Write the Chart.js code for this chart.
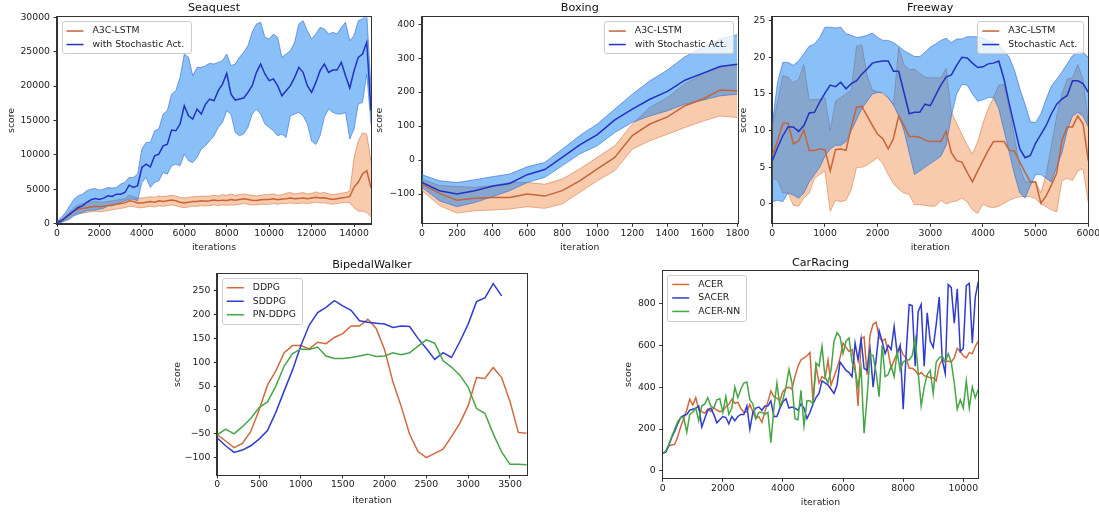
<!DOCTYPE html>
<html lang="en">
<head>
<meta charset="UTF-8">
<title>Stochastic action learning curves</title>
<script src="https://cdn.jsdelivr.net/npm/chart.js@4"></script>
<style>
  body { margin: 0; background: #fff; width: 1099px; height: 512px; position: relative; overflow: hidden; }
</style>
</head>
<body>
<script>
// ---------- Seaquest ----------
const seaquestIters = [0,200,400,600,800,1000,1200,1400,1600,1800,2000,2200,2400,2600,2800,3000,3200,3400,3600,3800,
  4000,4200,4400,4600,4800,5000,5200,5400,5600,5800,6000,6200,6400,6600,6800,7000,7200,7400,7600,7800,
  8000,8200,8400,8600,8800,9000,9200,9400,9600,9800,10000,10200,10400,10600,10800,11000,11200,11400,11600,11800,
  12000,12200,12400,12600,12800,13000,13200,13400,13600,13800,14000,14200,14400,14600,14800];
const seaquestA3C = [200,350,800,1300,1800,2100,2200,2300,2400,2500, 2450,2500,2600,2700,2800,2900,3000,3300,3200,3000,
  3000,3100,3200,3100,3300,3200,3300,3400,3300,3100, 3000,3100,3200,3200,3300,3250,3300,3400,3300,3400,
  3350,3500,3400,3500,3600,3500,3400,3350,3450,3500, 3500,3600,3450,3550,3600,3700,3600,3650,3700,3600,
  3700,3800,3700,3750,3600,3500,3600,3700,3800,3900, 5300,6000,7200,7700,5200];
const seaquestA3CHigh = [300,600,1100,1700,2300,2700,2900,3000,3100,3200, 3100,3100,3200,3300,3400,3500,3600,4100,3900,3700,
  3700,3800,3900,3800,4000,3900,4000,4100,4000,3800, 3700,3800,3900,3900,4000,3950,4000,4100,4000,4200,
  4100,4300,4100,4200,4300,4200,4100,4000,4100,4200, 4200,4300,4100,4200,4400,4500,4300,4400,4500,4300,
  4400,4600,4400,4500,4300,4200,4300,4400,4500,4700, 9500,12000,13200,13000,9000];
const seaquestA3CLow = [100,200,500,900,1300,1500,1500,1600,1700,1800, 1700,1800,1900,2000,2100,2200,2300,2500,2500,2300,
  2300,2400,2500,2400,2600,2500,2600,2700,2600,2400, 2300,2400,2500,2500,2600,2550,2600,2700,2600,2700,
  2650,2700,2700,2800,2900,2800,2700,2700,2800,2800, 2800,2900,2800,2900,2900,3000,2900,2900,3000,2900,
  3000,3100,3000,3000,2900,2800,2900,3000,3100,3000, 2300,1800,1800,1600,1000];
const seaquestStoch = [150,400,870,1360,1840,2330,2570,3060,3450,3640, 3500,3690,4030,3930,4270,4270,4510,5580,5240,5490,
  8150,8640,8250,9850,10100,11300,11550,13590,13490,14470, 17130,15680,15190,16650,15920,17380,18100,17860,19320,20290,
  21840,18830,17960,18100,18250,19080,20050,21990,23200,21750, 20780,21020,20050,18590,19320,20050,21260,22720,21990,20050,
  19080,20530,22230,23200,21990,22330,22330,23440,21500,19710, 22230,24170,24660,26360,16400];
const seaquestStochHigh = [290,870,1600,2570,3540,4030,4270,4760,5000,5100, 4850,5000,5240,5150,5240,5730,5970,6700,6700,7180,
  10820,11800,11800,13490,13740,15920,16410,18830,19320,21260, 24660,24170,21500,22720,22720,22960,23300,23200,23440,23690,
  24660,22960,23200,24170,24900,25870,27810,29030,29270,27090, 26840,27570,27090,24170,24660,25140,26360,29030,29510,28060,
  26840,27570,28540,28300,27570,27810,27570,28540,29270,26600, 27330,29510,29760,30500,19800];
const seaquestStochLow = [0,150,390,630,1120,1360,1600,1840,1940,1940, 2090,2230,2570,2570,2820,3060,3300,3540,3540,3300,
  5970,6700,5240,5970,6210,7430,7180,8400,8640,8400, 10100,9130,8880,9610,10820,11310,12040,12770,13980,14710,
  16410,15920,13250,12770,13010,13980,15920,16650,15920,14470, 13980,13490,12770,13010,12520,15680,15920,16160,15680,14470,
  12000,11500,12770,15430,16650,16160,15920,15920,16160,12280, 13740,17380,17620,21750,14470];
const seaquestXTicks = [0,2000,4000,6000,8000,10000,12000,14000];
const seaquestYTicks = [0,5000,10000,15000,20000,25000,30000];

// ---------- Boxing ----------
const boxingIters = [0,100,200,300,400,500,600,700,800,900,1000,1100,1200,1300,1400,1500,1600,1700,1800];
const boxingA3C = [-71,-98,-118,-112,-110,-110,-100,-106,-90,-61,-26,8,72,106,127,160,179,206,204];
const boxingA3CHigh = [-56,-75,-78,-80,-75,-66,-66,-71,-56,-26,8,42,106,155,184,224,253,273,282];
const boxingA3CLow = [-90,-134,-156,-149,-147,-144,-137,-142,-129,-95,-61,-31,32,57,76,96,114,130,125];
const boxingStoch = [-66,-90,-100,-90,-77,-69,-43,-28,8,45,75,118,150,179,202,235,255,275,282];
const boxingStochHigh = [-43,-61,-66,-58,-49,-41,-20,-7,32,72,106,150,194,233,265,304,331,356,369];
const boxingStochLow = [-80,-120,-137,-125,-108,-90,-66,-51,-17,18,42,81,111,130,145,165,176,189,194];
const boxingXTicks = [0,200,400,600,800,1000,1200,1400,1600,1800];
const boxingYTicks = [-100,0,100,200,300,400];

// ---------- Freeway ----------
const freewayIters = [0,100,200,300,400,500,600,700,800,900,1000,1100,1200,1300,1400,1500,1600,1700,1800,1900,
  2000,2100,2200,2300,2400,2500,2600,2700,2800,2900,3000,3100,3200,3300,3400,3500,3600,3700,3800,3900,
  4000,4100,4200,4300,4400,4500,4600,4700,4800,4900,5000,5100,5200,5300,5400,5500,5600,5700,5800,5900,6000];
const freewayA3C = [6.6,8.6,11.0,11.0,8.2,8.6,10.1,7.3,7.3,7.5, 7.4,4.5,7.4,7.5,7.3,10.5,13.2,13.3,12.0,10.7,
  9.5,8.9,7.5,8.9,12.0,10.7,9.2,9.2,9.1,8.7, 8.5,8.5,8.5,9.9,7.0,5.9,5.7,4.3,3.0,4.5,
  5.9,7.3,8.5,8.5,8.5,7.3,7.2,5.7,4.3,3.0, 3.0,0.1,1.1,2.6,4.2,8.7,10.5,10.5,12.0,10.9, 5.9];
const freewayA3CHigh = [10.5,14,17.5,17.3,16.5,17,19,14.2,14.2,14.3, 14.5,10,14,14.5,15,15.5,21.5,21.7,17.5,15.5,
  15.3,15,14.5,13.5,21.3,19,18.3,18.4,17.8,17.3, 17.2,17.2,17.2,18.5,12.5,11,9.5,8,6.8,8.5,
  11,13,14.5,16.2,16.3,13,9,5,3,3, 3,1.5,4,8,12,15,17,17.2,19,17, 11];
const freewayA3CLow = [3.5,3.3,1.5,1.5,-0.2,-0.3,0.8,1.5,3.5,4, 4.5,-1,0.5,0.3,0.5,2,5,5,5.3,5.8,
  6.3,5.5,4,2.8,2,1.5,1.3,-0.1,-0.1,-0.2, -0.3,-0.3,0.5,0,0.3,0.4,0.8,0.3,-0.8,-1.3,
  0,-0.4,-0.5,-0.3,0.1,0.5,0.8,1,1,1, 0.7,0,-0.4,-0.8,-1.1,3.2,3.5,3.2,4.5,4.8, 0.2];
const freewayStoch = [5.9,7.7,9.3,10.5,10.5,9.9,10.7,12.4,12.5,13.9, 15.1,16.2,16.0,16.6,15.7,16.4,16.8,17.7,18.4,19.2,
  19.4,19.5,19.5,18.1,18.1,15.2,12.3,12.5,12.5,13.6, 13.4,14.8,16.2,17.3,17.6,18.9,20.0,19.9,19.2,18.6,
  18.7,19.1,19.2,19.5,17.0,13.6,10.5,7.5,6.3,6.6, 8.3,9.5,10.7,12.3,13.6,14.3,14.8,16.8,16.8,16.4, 15.2];
const freewayStochHigh = [10.9,16.6,19.3,19.3,18.9,19.5,20.5,21.5,21.8,22.7, 24.1,24.1,24.0,24.1,23.2,23.0,22.7,22.8,23.0,23.3,
  22.7,22.3,22.3,22.0,21.5,20.9,20.5,20.1,20.1,20.7, 21.4,21.8,22.3,22.6,22.0,22.5,22.5,22.8,22.8,22.8,
  22.6,22.3,22.0,21.6,20.9,20.0,18.2,15.7,13.6,11.2, 11.1,12.3,14.3,16.1,17.0,18.0,19.1,20.2,20.7,20.7, 20.0];
const freewayStochLow = [0.3,0.5,0.3,1.5,1.2,0.8,1.5,3,4,5, 6.5,7.5,8,8,8.5,10,11.5,13,14,15,
  15.2,15.2,14.5,13.5,12,10,7,4,4.5,5, 5.5,6,6.5,8,12,15,16.3,16.2,15,14,
  14.2,14.5,14.5,13,10,7,4,1.5,0.8,2.5, 4,4,3.5,3,5,7,10,12,12.5,12, 10.5];
const freewayXTicks = [0,1000,2000,3000,4000,5000,6000];
const freewayYTicks = [0,5,10,15,20,25];

// ---------- BipedalWalker ----------
const bipedalIters = [0,100,200,300,400,500,600,700,800,900,1000,1100,1200,1300,1400,1500,1600,1700,1800,1900,
  2000,2100,2200,2300,2400,2500,2600,2700,2800,2900,3000,3100,3200,3300,3400,3500,3600,3700];
const bipedalDDPG = [-52,-65,-79,-70,-45,0,52,82,120,135, 135,128,142,139,152,160,176,176,190,171,
  127,59,7,-51,-87,-100,-91,-82,-56,-28, 9,68,66,89,68,18,-47,-49];
const bipedalSDDPG = [-59,-75,-89,-84,-75,-61,-43,-5,40,84, 135,178,204,215,229,218,209,187,184,182,
  180,173,176,175,150,129,106,120,110,143, 180,227,235,265,239];
const bipedalPNDDPG = [-52,-40,-50,-35,-18,5,17,50,92,118, 128,127,132,113,108,108,110,113,117,112,
  113,120,116,120,134,147,140,103,90,73, 48,3,-7,-50,-88,-114,-114,-115];
const bipedalXTicks = [0,500,1000,1500,2000,2500,3000,3500];
const bipedalYTicks = [-100,-50,0,50,100,150,200,250];

// ---------- CarRacing ----------
const carIters = [0,100,200,300,400,500,600,700,800,900,1000,1100,1200,1300,1400,1500,1600,1700,1800,1900,
  2000,2100,2200,2300,2400,2500,2600,2700,2800,2900,3000,3100,3200,3300,3400,3500,3600,3700,3800,3900,
  4000,4100,4200,4300,4400,4500,4600,4700,4800,4900,5000,5100,5200,5300,5400,5500,5600,5700,5800,5900,
  6000,6100,6200,6300,6400,6500,6600,6700,6800,6900,7000,7100,7200,7300,7400,7500,7600,7700,7800,7900,
  8000,8100,8200,8300,8400,8500,8600,8700,8800,8900,9000,9100,9200,9300,9400,9500,9600,9700,9800,9900,
  10000,10100,10200,10300,10400,10500];
const carACER = [84,92,120,124,127,164,211,251,291,343, 315,350,291,283,275,296,283,302,291,283,
  286,307,318,343,323,328,299,280,283,318, 283,251,259,232,283,331,382,355,347,335,
  380,395,400,390,450,500,530,540,550,565, 330,500,420,450,440,530,410,450,490,540,
  610,590,570,580,500,310,630,640,460,650, 700,710,640,620,630,570,490,530,560,590,
  555,540,490,490,480,460,470,455,450,445, 445,430,505,530,520,525,520,540,585,570,
  550,540,565,560,595,620];
const carSACER = [84,90,120,160,190,225,255,265,270,290, 295,300,310,210,250,290,300,270,230,245,
  260,255,225,260,240,260,270,270,310,200, 280,300,305,290,310,310,335,260,260,300,
  330,345,300,305,300,290,320,300,250,280, 320,350,370,430,420,410,390,370,410,520,
  500,480,470,450,610,530,630,490,480,580, 400,530,670,620,560,600,580,690,560,600,
  295,560,795,790,500,760,795,500,755,620, 590,700,830,530,465,890,875,705,870,570,
  585,885,895,610,830,905];
const carACERNN = [84,95,125,165,200,235,255,255,185,270, 280,300,240,310,320,350,310,300,340,345,
  280,355,270,300,400,350,390,420,425,340, 320,250,280,280,270,280,135,300,420,310,
  340,400,485,420,250,245,385,215,335,335, 320,515,500,595,450,420,480,620,660,640,
  560,620,635,520,480,400,490,180,350,560, 550,470,355,600,450,460,500,450,570,480,
  520,530,530,550,630,470,310,400,460,480, 370,520,540,550,520,560,520,420,295,340,
  300,430,300,400,350,390];
const carXTicks = [0,2000,4000,6000,8000,10000];
const carYTicks = [0,200,400,600,800];

// ---------- drawing ----------
Chart.defaults.font.family = '"DejaVu Sans", sans-serif';
Chart.defaults.color = '#222';

const TICK = 9.3, HEAD = 11.2;
const orangeLine = 'rgb(196,100,60)', blueLine = 'rgb(35,50,195)';
const orangeFill = 'rgba(240,140,70,0.45)', orangeEdge = 'rgba(205,110,60,0.55)';
const blueFill = 'rgba(20,130,240,0.5)', blueEdge = 'rgba(40,90,210,0.55)';
const c2Orange = 'rgb(208,105,62)', c2Blue = 'rgb(48,60,205)', c2Green = 'rgb(70,165,70)';

const pts = (xs, ys) => ys.map((y, i) => ({x: xs[i], y: y}));

// spines on all four sides
const frame = {
  id: 'frame',
  afterDraw(chart) {
    const a = chart.chartArea, ctx = chart.ctx;
    ctx.save();
    ctx.strokeStyle = '#333';
    ctx.lineWidth = 1;
    ctx.strokeRect(Math.round(a.left) - 0.5, Math.round(a.top) - 0.5,
      Math.round(a.right) - Math.round(a.left) + 1, Math.round(a.bottom) - Math.round(a.top) + 1);
    ctx.restore();
  }
};

// matplotlib-style legend inside the axes
const boxLegend = {
  id: 'boxLegend',
  afterDraw(chart, args, opts) {
    const items = chart.data.datasets.filter(d => d.label);
    const ctx = chart.ctx, a = chart.chartArea;
    ctx.save();
    ctx.font = TICK + 'px "DejaVu Sans"';
    const textW = Math.max(...items.map(d => ctx.measureText(d.label).width));
    const w = 31 + textW + 6, h = items.length * 13.5 + 5;
    const x = opts.side === 'right' ? a.right - 5 - w : a.left + 4.5;
    const y = a.top + 4;
    ctx.fillStyle = 'rgba(255,255,255,0.8)';
    ctx.strokeStyle = '#cccccc';
    ctx.lineWidth = 1;
    ctx.beginPath();
    ctx.roundRect(Math.round(x) + 0.5, Math.round(y) + 0.5, Math.round(w), Math.round(h), 2.5);
    ctx.fill();
    ctx.stroke();
    items.forEach((d, i) => {
      const cy = y + 9.75 + i * 13.5;
      ctx.strokeStyle = d.borderColor;
      ctx.lineWidth = 1.5;
      ctx.beginPath();
      ctx.moveTo(x + 5, cy);
      ctx.lineTo(x + 22, cy);
      ctx.stroke();
      ctx.fillStyle = '#222';
      ctx.textBaseline = 'middle';
      ctx.fillText(d.label, x + 31, cy);
    });
    ctx.restore();
  }
};

function meanLine(label, xs, ys, color, order) {
  return {label: label, data: pts(xs, ys), borderColor: color, backgroundColor: color,
    borderWidth: 1.5, pointRadius: 0, fill: false, order: order};
}
function band(xs, hi, lo, fillColor, edge, order) {
  return [
    {data: pts(xs, hi), borderColor: edge, backgroundColor: fillColor, borderWidth: 1, pointRadius: 0, fill: '+1', order: order},
    {data: pts(xs, lo), borderColor: edge, backgroundColor: fillColor, borderWidth: 1, pointRadius: 0, fill: false, order: order}
  ];
}

const fmt = v => (v < 0 ? '\u2212' + Math.abs(v) : String(v));

// box: L,T canvas origin; PL,PR,PT,PB plot area; ytx y-title centre x; xty x-title centre y; tty title centre y
function makeChart(box, title, xTitle, x, y, datasets, legendSide) {
  const W = Math.ceil(box.PR - box.L + 16), H = Math.ceil(box.xty + 7 - box.T);
  const canvas = document.createElement('canvas');
  canvas.width = W; canvas.height = H;
  canvas.style.cssText = 'position:absolute;left:' + box.L + 'px;top:' + box.T + 'px;width:' + W + 'px;height:' + H + 'px';
  document.body.appendChild(canvas);
  const lh = TICK * 1.2, tlh = HEAD * 1.2;
  const yw = box.PL - box.L, xh = H - (box.PB - box.T);
  const tTop = box.tty - box.T - tlh / 2;
  const tBottom = box.PT - box.T - tTop - tlh;
  new Chart(canvas, {
    type: 'line',
    data: {datasets: datasets},
    options: {
      responsive: false, animation: false, devicePixelRatio: 1,
      layout: {padding: {left: 0, top: 0, bottom: 0, right: W - (box.PR - box.L)}},
      plugins: {
        legend: {display: false}, tooltip: {enabled: false},
        title: {display: true, text: title, fullSize: false, color: '#111',
          font: {size: HEAD, weight: 'normal'}, padding: {top: tTop, bottom: tBottom}},
        boxLegend: {side: legendSide}
      },
      scales: {
        x: {
          type: 'linear', min: x.min, max: x.max,
          grid: {drawOnChartArea: false, drawTicks: true, tickLength: 3.5, color: '#333'},
          border: {display: true, color: '#333', width: 1},
          ticks: {autoSkip: false, maxRotation: 0, padding: 1, font: {size: TICK}, callback: fmt},
          afterBuildTicks: s => { s.ticks = x.ticks.map(v => ({value: v})); },
          title: {display: true, text: xTitle, font: {size: TICK},
            padding: {top: 0, bottom: H - (box.xty - box.T) - lh / 2}},
          afterFit: s => { s.height = xh; }
        },
        y: {
          type: 'linear', min: y.min, max: y.max,
          grid: {drawOnChartArea: false, drawTicks: true, tickLength: 3.5, color: '#333'},
          border: {display: true, color: '#333', width: 1},
          ticks: {autoSkip: false, padding: 3.5, font: {size: TICK}, callback: fmt},
          afterBuildTicks: s => { s.ticks = y.ticks.map(v => ({value: v})); },
          title: {display: true, text: 'score', font: {size: TICK},
            padding: {top: box.ytx - box.L - lh / 2, bottom: 0}},
          afterFit: s => { s.width = yw; }
        }
      }
    },
    plugins: [frame, boxLegend]
  });
}

makeChart({L: 0, T: 0, PL: 57, PR: 371, PT: 17.3, PB: 223.5, ytx: 12, xty: 248, tty: 8.5},
  'Seaquest', 'iterations', {min: 0, max: 14800, ticks: seaquestXTicks}, {min: 0, max: 30000, ticks: seaquestYTicks},
  [meanLine('A3C-LSTM', seaquestIters, seaquestA3C, orangeLine, 1),
   meanLine('with Stochastic Act.', seaquestIters, seaquestStoch, blueLine, 0),
   ...band(seaquestIters, seaquestStochHigh, seaquestStochLow, blueFill, blueEdge, 2),
   ...band(seaquestIters, seaquestA3CHigh, seaquestA3CLow, orangeFill, orangeEdge, 3)], 'left');

makeChart({L: 365, T: 0, PL: 422, PR: 737.5, PT: 17.3, PB: 223.3, ytx: 380, xty: 248, tty: 8.5},
  'Boxing', 'iteration', {min: 0, max: 1800, ticks: boxingXTicks}, {min: -186, max: 420, ticks: boxingYTicks},
  [meanLine('A3C-LSTM', boxingIters, boxingA3C, orangeLine, 1),
   meanLine('with Stochastic Act.', boxingIters, boxingStoch, blueLine, 0),
   ...band(boxingIters, boxingStochHigh, boxingStochLow, blueFill, blueEdge, 2),
   ...band(boxingIters, boxingA3CHigh, boxingA3CLow, orangeFill, orangeEdge, 3)], 'right');

makeChart({L: 730, T: 0, PL: 772.3, PR: 1088.3, PT: 17.3, PB: 223.3, ytx: 744, xty: 248, tty: 8.5},
  'Freeway', 'iteration', {min: 0, max: 6000, ticks: freewayXTicks}, {min: -2.64, max: 25.45, ticks: freewayYTicks},
  [meanLine('A3C-LSTM', freewayIters, freewayA3C, orangeLine, 1),
   meanLine('Stochastic Act.', freewayIters, freewayStoch, blueLine, 0),
   ...band(freewayIters, freewayStochHigh, freewayStochLow, blueFill, blueEdge, 2),
   ...band(freewayIters, freewayA3CHigh, freewayA3CLow, orangeFill, orangeEdge, 3)], 'right');

makeChart({L: 160, T: 255, PL: 217.3, PR: 526.7, PT: 274, PB: 475, ytx: 177.3, xty: 500.7, tty: 265},
  'BipedalWalker', 'iteration', {min: 0, max: 3700, ticks: bipedalXTicks}, {min: -136.3, max: 285, ticks: bipedalYTicks},
  [meanLine('DDPG', bipedalIters, bipedalDDPG, c2Orange, 2),
   meanLine('SDDPG', bipedalIters, bipedalSDDPG, c2Blue, 1),
   meanLine('PN-DDPG', bipedalIters, bipedalPNDDPG, c2Green, 0)], 'left');

makeChart({L: 610, T: 255, PL: 662.7, PR: 978.3, PT: 270.7, PB: 478.3, ytx: 629, xty: 503, tty: 263.3},
  'CarRacing', 'iteration', {min: 0, max: 10500, ticks: carXTicks}, {min: -35, max: 956, ticks: carYTicks},
  [meanLine('ACER', carIters, carACER, c2Orange, 2),
   meanLine('SACER', carIters, carSACER, c2Blue, 1),
   meanLine('ACER-NN', carIters, carACERNN, c2Green, 0)], 'left');
</script>
</body>
</html>
